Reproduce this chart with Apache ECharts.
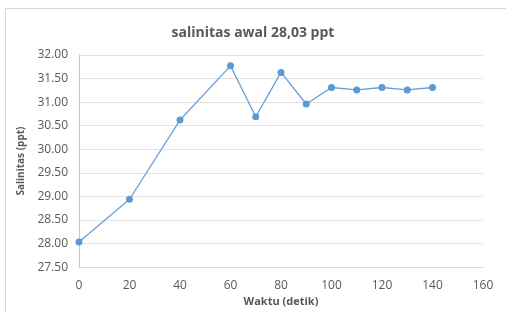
<!DOCTYPE html>
<html>
<head>
    <meta charset="UTF-8">
    <title>salinitas</title>
    <script src="https://cdn.jsdelivr.net/npm/echarts@6/dist/echarts.min.js"></script>
    <style>
        html, body { margin: 0; padding: 0; background: #fff; }
        #chart { width: 506px; height: 312px; }
    </style>
</head>
<body>
<div id="chart"></div>
<script>
    // data
    const waktu = [0, 20, 40, 60, 70, 80, 90, 100, 110, 120, 130, 140];
    const salinitas = [28.03, 28.94, 30.62, 31.77, 30.69, 31.63, 30.96, 31.31, 31.26, 31.31, 31.26, 31.31];
    const yTicks = { min: 27.5, max: 32, step: 0.5 };
    const xTicks = { min: 0, max: 160, step: 20 };

    const chart = echarts.init(document.getElementById('chart'));
    const labelColor = '#595959';
    const font = 'Open Sans, sans-serif';

    chart.setOption({
        animation: false,
        title: {
            text: 'salinitas awal 28,03 ppt',
            left: 'center',
            top: 21,
            textStyle: { fontSize: 14, fontWeight: 'bold', color: labelColor, fontFamily: font }
        },
        graphic: [{
            type: 'rect',
            shape: { x: 5.5, y: 8.5, width: 510, height: 320 },
            style: { fill: 'none', stroke: '#d9d9d9', lineWidth: 1 }
        }],
        grid: { left: 79, right: 23, top: 55, bottom: 42 },
        xAxis: {
            type: 'value',
            min: xTicks.min,
            max: xTicks.max,
            interval: xTicks.step,
            name: 'Waktu (detik)',
            nameLocation: 'middle',
            nameGap: 25,
            nameTextStyle: { fontSize: 11, fontWeight: 'bold', color: labelColor, fontFamily: font },
            axisLine: { show: true, lineStyle: { color: '#d9d9d9' } },
            axisTick: { show: false },
            splitLine: { show: false },
            axisLabel: { fontSize: 12, color: labelColor, fontFamily: font, margin: 12 }
        },
        yAxis: {
            type: 'value',
            min: yTicks.min,
            max: yTicks.max,
            interval: yTicks.step,
            name: 'Salinitas (ppt)',
            nameLocation: 'middle',
            nameRotate: 90,
            nameGap: 50,
            nameTextStyle: { fontSize: 10, fontWeight: 'bold', color: labelColor, fontFamily: font },
            axisLine: { show: true, lineStyle: { color: '#bfc9d4' } },
            axisTick: { show: false },
            splitLine: { lineStyle: { color: '#e3e3e3' } },
            axisLabel: {
                fontSize: 12, color: labelColor, fontFamily: font, margin: 11,
                formatter: v => v.toFixed(2)
            }
        },
        series: [{
            type: 'line',
            data: waktu.map((t, i) => [t, salinitas[i]]),
            symbol: 'circle',
            symbolSize: 7,
            lineStyle: { color: '#6a9fd6', width: 1.3 },
            itemStyle: { color: '#5b9bd5' }
        }]
    });
</script>
</body>
</html>
